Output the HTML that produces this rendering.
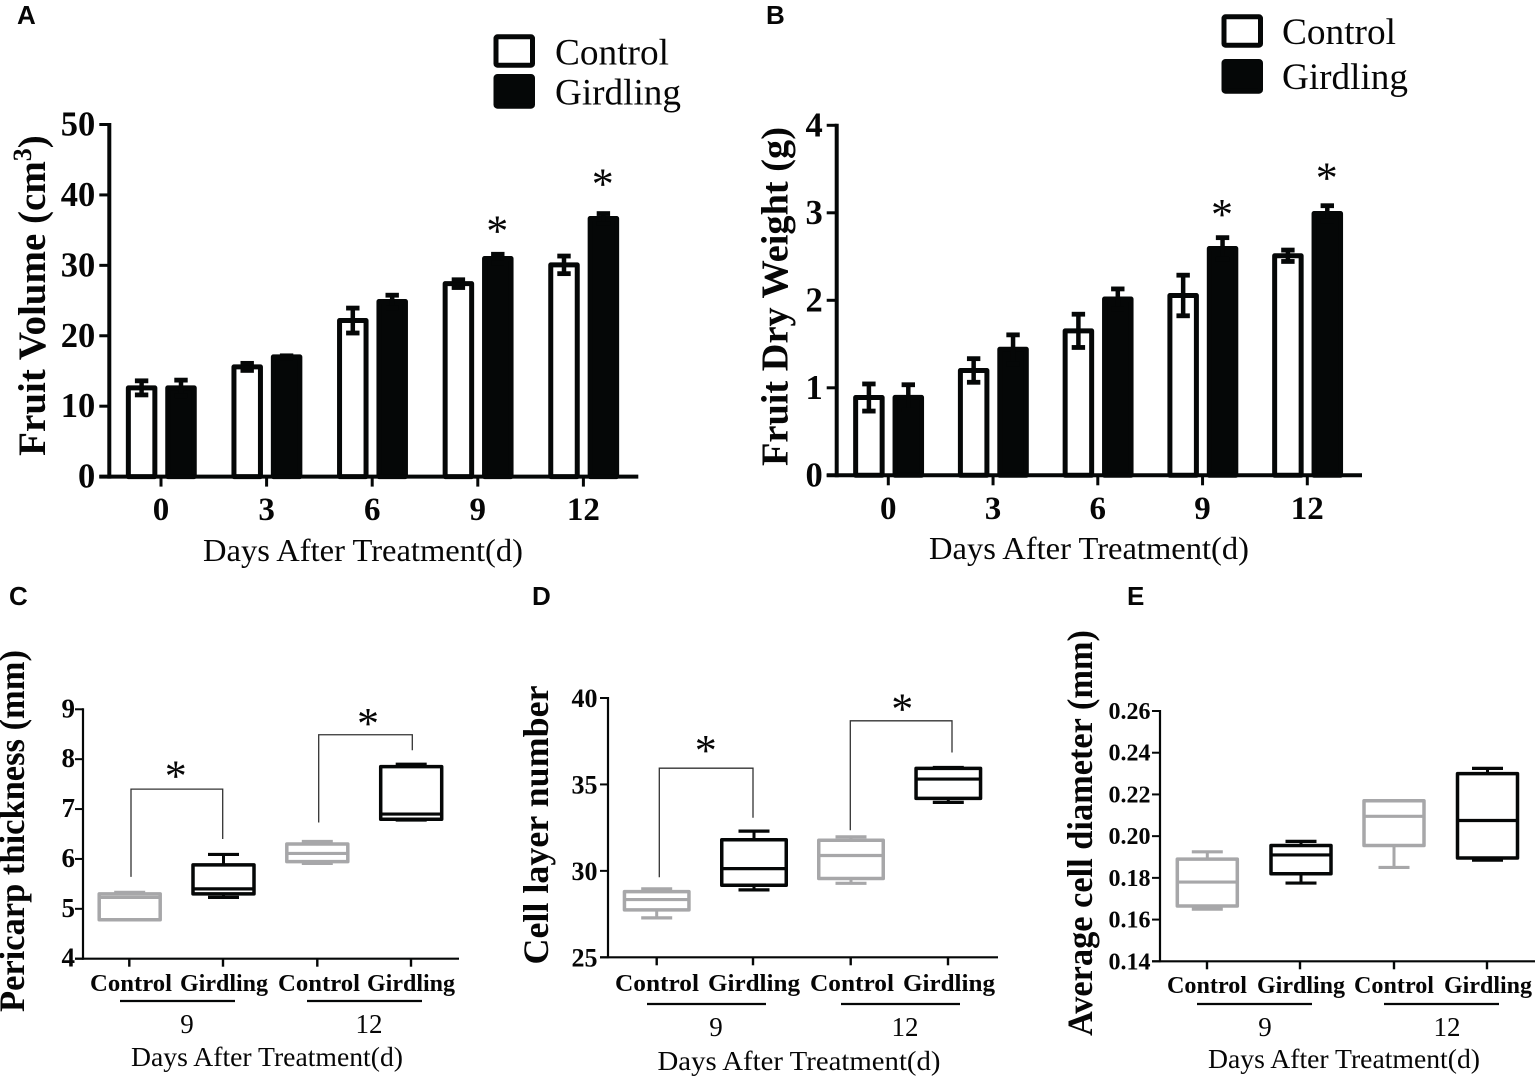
<!DOCTYPE html>
<html>
<head>
<meta charset="utf-8">
<style>
html,body{margin:0;padding:0;background:#fff}
svg{display:block}
text{font-family:"Liberation Serif",serif;fill:#060606}
.panel-letter{font-family:"Liberation Sans",sans-serif;font-weight:bold;font-size:26px}
</style>
</head>
<body>
<svg id="figure" xmlns="http://www.w3.org/2000/svg" width="1535" height="1076" viewBox="0 0 1535 1076"></svg>
<script>
// ---- Data: bar charts ----
const barDays = ['0', '3', '6', '9', '12'];
const volumeControl = [12.6, 15.58, 22.16, 27.4, 30.07];
const volumeControlErr = [1.0, 0.5, 1.77, 0.55, 1.25];
const volumeGirdling = [12.6, 17.0, 24.86, 30.97, 36.65];
const volumeGirdlingErr = [1.1, 0.15, 0.9, 0.6, 0.7];
const volumeTicks = [0, 10, 20, 30, 40, 50];
const volumeStars = [35.5, 42.2];

const weightControl = [0.889, 1.198, 1.651, 2.055, 2.509];
const weightControlErr = [0.155, 0.135, 0.19, 0.232, 0.065];
const weightGirdling = [0.89, 1.44, 2.015, 2.592, 2.992];
const weightGirdlingErr = [0.145, 0.165, 0.115, 0.124, 0.089];
const weightTicks = [0, 1, 2, 3, 4];
const weightStars = [3.03, 3.45];

// ---- Data: box plots (min, q1, median, q3, max) ----
const boxGroups = ['Control', 'Girdling', 'Control', 'Girdling'];
const boxDays = ['9', '12'];
const pericarpBoxes = [
  [4.78, 4.78, 5.23, 5.30, 5.33],
  [5.23, 5.30, 5.40, 5.88, 6.09],
  [5.91, 5.945, 6.11, 6.30, 6.35],
  [6.78, 6.795, 6.90, 7.85, 7.90]
];
const pericarpTicks = ['4', '5', '6', '7', '8', '9'];
const pericarpBrackets = [[5.64, 7.40, 6.40], [6.73, 8.49, 8.18]];
const pericarpStars = [7.75, 8.81];

const layerBoxes = [
  [27.28, 27.74, 28.34, 28.8, 28.96],
  [28.9, 29.17, 30.13, 31.8, 32.3],
  [29.28, 29.56, 30.89, 31.77, 31.97],
  [33.96, 34.19, 35.31, 35.93, 35.98]
];
const layerTicks = ['25', '30', '35', '40'];
const layerBrackets = [[29.63, 35.94, 33.07], [32.35, 38.68, 36.85]];
const layerStars = [37.22, 39.63];

const diameterBoxes = [
  [0.165, 0.1665, 0.178, 0.189, 0.1925],
  [0.1775, 0.182, 0.191, 0.1955, 0.1975],
  [0.185, 0.1955, 0.2095, 0.217, 0.217],
  [0.1885, 0.1895, 0.2075, 0.23, 0.2325]
];
const diameterTicks = ['0.14', '0.16', '0.18', '0.20', '0.22', '0.24', '0.26'];

// ---- Drawing helpers ----
const NS = 'http://www.w3.org/2000/svg';
const INK = '#050707';
const fig = document.getElementById('figure');
function mk(tag, attrs, parent, txt) {
  const e = document.createElementNS(NS, tag);
  for (const k in attrs) e.setAttribute(k, attrs[k]);
  if (txt !== undefined) e.textContent = txt;
  (parent || fig).appendChild(e);
  return e;
}
function line(p, x1, y1, x2, y2, stroke, w) {
  return mk('line', {x1, y1, x2, y2, stroke, 'stroke-width': w}, p);
}
function group(name, parent) {
  const g = mk('g', {}, parent || fig);
  
  
  return g;
}
function linearScale(d0, d1, r0, r1) {
  return v => r0 + (v - d0) * (r1 - r0) / (d1 - d0);
}
function label(p, name, x, y, str, size, opts) {
  const o = opts || {};
  const a = {x, y, 'font-size': size, 'text-anchor': o.anchor || 'middle'};
  if (o.bold) a['font-weight'] = 'bold';
  if (o.len) { a.textLength = o.len; a.lengthAdjust = 'spacingAndGlyphs'; }
  if (o.rotate) a.transform = 'rotate(-90 ' + x + ' ' + y + ')';
  const t = mk('text', a, p, str);
  
  
  return t;
}
function star(p, x, y) {
  return label(p, 'significance-star', x, y + 19, '*', 44);
}

function drawBarPanel(c) {
  const g = group(c.name);
  const y = linearScale(c.domain[0], c.domain[1], c.y0, c.y1);
  c.ticks.forEach(v => {
    line(g, c.axisX - 10, y(v), c.axisX, y(v), INK, 3);
    label(g, 'y-tick-label', c.axisX - 14, y(v) + 11, String(v), 34.5, {anchor: 'end', bold: true});
  });
  const xPos = i => c.x0 + i * c.step;
  barDays.forEach((d, i) => {
    const cx = xPos(i);
    [[c.control, c.controlErr, -19.4, '#fff', 'bar-control'], [c.girdling, c.girdlingErr, 20, INK, 'bar-girdling']].forEach(s => {
      const v = s[0][i], e = s[1][i], bx = cx + s[2];
      const r = mk('rect', {x: bx - 13.25, y: y(v), width: 26.5, height: c.y0 - y(v), fill: s[3], stroke: INK, 'stroke-width': 5, 'stroke-linejoin': 'round'}, g);
      
      
      const eb = group('error-bar', g);
      line(eb, bx, y(v - e), bx, y(v + e), INK, 4.5);
      line(eb, bx - 6.7, y(v + e), bx + 6.7, y(v + e), INK, 4.8);
      line(eb, bx - 6.7, y(v - e), bx + 6.7, y(v - e), INK, 4.8);
    });
    line(g, cx, c.y0, cx, c.y0 + 10, INK, 3);
    label(g, 'x-tick-label', cx, c.tickBase, d, 33, {bold: true});
  });
  line(g, c.axisX, c.y1 - 1.5, c.axisX, c.y0 + 2, INK, 4);
  line(g, c.axisX - 10, c.y0, c.axisEnd, c.y0, INK, 4);
  c.stars.forEach((v, i) => star(g, xPos(i + 3) + 19.4, y(v)));
  label(g, 'x-axis-title', c.titleX, c.titleBase, 'Days After Treatment(d)', 32, {len: 320});
}

function drawLegend(name, bx, by1, h1, by2, h2, tx, tb1, tb2) {
  const g = group(name);
  const r1 = mk('rect', {x: bx + 2.5, y: by1 + 2.5, width: 36.5, height: h1 - 5, fill: '#fff', stroke: INK, 'stroke-width': 5, rx: 1.5}, g);
  
  
  const r2 = mk('rect', {x: bx + 2.5, y: by2 + 2.5, width: 36.5, height: h2 - 5, fill: INK, stroke: INK, 'stroke-width': 5, rx: 1.5}, g);
  
  
  label(g, 'legend-label-control', tx, tb1, 'Control', 37, {anchor: 'start', len: 114});
  label(g, 'legend-label-girdling', tx, tb2, 'Girdling', 37, {anchor: 'start', len: 126});
}

function drawBoxPanel(c) {
  const g = group(c.name);
  const y = linearScale(c.domain[0], c.domain[1], c.y0, c.y1);
  c.ticks.forEach(s => {
    const v = parseFloat(s);
    line(g, c.axisX - 8, y(v), c.axisX, y(v), INK, 2);
    label(g, 'y-tick-label', c.axisX - c.tickGap, y(v) + c.tickDrop, s, c.tickSize, {anchor: 'end', bold: true});
  });
  line(g, c.axisX, c.y1 - 1, c.axisX, c.y0 + 1, INK, 2.2);
  line(g, c.axisX - 8, c.y0, c.axisEnd, c.y0, INK, 2.2);
  c.boxes.forEach((b, i) => {
    const cx = c.centers[i], col = i % 2 === 0 ? '#a7a7a9' : INK;
    const bg = group('box-' + boxGroups[i].toLowerCase() + '-day-' + boxDays[i < 2 ? 0 : 1], g);
    const hw = c.boxW / 2;
    line(bg, cx, y(b[0]), cx, y(b[1]), col, 3);
    line(bg, cx, y(b[3]), cx, y(b[4]), col, 3);
    line(bg, cx - 15.5, y(b[0]), cx + 15.5, y(b[0]), col, 3.2);
    line(bg, cx - 15.5, y(b[4]), cx + 15.5, y(b[4]), col, 3.2);
    mk('rect', {x: cx - hw, y: y(b[3]), width: c.boxW, height: y(b[1]) - y(b[3]), fill: 'none', stroke: col, 'stroke-width': 3.5, 'stroke-linejoin': 'round'}, bg);
    line(bg, cx - hw, y(b[2]), cx + hw, y(b[2]), col, 3.2);
    line(g, c.ticksX[i], c.y0, c.ticksX[i], c.y0 + 8, INK, 2.4);
    label(g, 'x-category-label', c.catX[i], c.catBase, boxGroups[i], 24, {bold: true, len: c.catLen[i % 2]});
  });
  boxDays.forEach((d, i) => {
    line(g, c.under[i], c.underY, c.under[i] + c.underW, c.underY, INK, 2.2);
    label(g, 'day-group-label', c.dayX[i], c.dayBase, d, 27);
  });
  (c.brackets || []).forEach((b, i) => {
    const xl = c.brX[i][0], xr = c.brX[i][1];
    const p = mk('polyline', {points: xl + ',' + y(b[0]) + ' ' + xl + ',' + y(b[1]) + ' ' + xr + ',' + y(b[1]) + ' ' + xr + ',' + y(b[2]), fill: 'none', stroke: '#333', 'stroke-width': 1.3}, g);
    
    
    star(g, c.starX[i], y(c.stars[i]));
  });
  label(g, 'x-axis-title', c.titleX, c.titleBase, 'Days After Treatment(d)', 27, {len: c.titleLen});
  label(g, 'y-axis-title', c.yTitleX, c.yTitleY, c.yTitle, 36, {bold: true, rotate: true, len: c.yTitleLen});
}

// ---- Panel letters ----
[['A', 17, 24], ['B', 766, 24], ['C', 9, 605], ['D', 532, 605], ['E', 1127, 605]].forEach(p => {
  const t = mk('text', {x: p[1], y: p[2], class: 'panel-letter'}, fig, p[0]);
  
  
});

// ---- Panels ----
drawBarPanel({name: 'panel-a-fruit-volume', domain: [0, 50], y0: 476.6, y1: 124.5, axisX: 109.3, axisEnd: 638.3,
  x0: 161, step: 105.6, ticks: volumeTicks, control: volumeControl, controlErr: volumeControlErr,
  girdling: volumeGirdling, girdlingErr: volumeGirdlingErr, stars: volumeStars, tickBase: 520,
  titleX: 363, titleBase: 561});
const ay = mk('text', {x: 45, y: 295.5, 'font-size': 39, 'font-weight': 'bold', 'text-anchor': 'middle', transform: 'rotate(-90 45 295.5)'}, fig);


mk('tspan', {}, ay, 'Fruit Volume (cm');
mk('tspan', {'font-size': 26, dy: -14}, ay, '3');
mk('tspan', {dy: 14}, ay, ')');

drawBarPanel({name: 'panel-b-fruit-dry-weight', domain: [0, 4], y0: 475.3, y1: 125.3, axisX: 836.7, axisEnd: 1362,
  x0: 888.3, step: 104.75, ticks: weightTicks, control: weightControl, controlErr: weightControlErr,
  girdling: weightGirdling, girdlingErr: weightGirdlingErr, stars: weightStars, tickBase: 519,
  titleX: 1089, titleBase: 559});
label(fig, 'y-axis-title-fruit-dry-weight', 787.5, 296.5, 'Fruit Dry Weight (g)', 38, {bold: true, rotate: true, len: 339});

drawLegend('legend-panel-a', 493.5, 34.3, 33.4, 74, 34.7, 555, 64.5, 104.5);
drawLegend('legend-panel-b', 1221.5, 14.3, 33.4, 59, 34.7, 1282, 44, 89);

drawBoxPanel({name: 'panel-c-pericarp-thickness', domain: [4, 9], y0: 958.7, y1: 709.3, axisX: 83, axisEnd: 459,
  boxes: pericarpBoxes, ticks: pericarpTicks, centers: [129.7, 223.5, 317.3, 411.2], ticksX: [129.3, 223, 317.3, 411], boxW: 61,
  tickSize: 27, tickGap: 8, tickDrop: 8,
  catX: [131, 224, 319, 411], catBase: 991, catLen: [82, 88], under: [120, 307], underW: 115, underY: 1001,
  dayX: [187, 369], dayBase: 1033, brackets: pericarpBrackets, brX: [[131, 222.7], [318.7, 412.3]], stars: pericarpStars, starX: [175.7, 368],
  titleX: 267, titleBase: 1066, titleLen: 272,
  yTitle: 'Pericarp thickness (mm)', yTitleX: 24, yTitleY: 831, yTitleLen: 362});

drawBoxPanel({name: 'panel-d-cell-layer-number', domain: [25, 40], y0: 957.3, y1: 698, axisX: 608, axisEnd: 998,
  boxes: layerBoxes, ticks: layerTicks, centers: [656.7, 754, 851, 948.3], ticksX: [656.7, 753, 850.7, 948], boxW: 64.5,
  tickSize: 26, tickGap: 10.5, tickDrop: 9,
  catX: [657, 754, 852, 949], catBase: 991, catLen: [84, 92], under: [647, 841], underW: 119, underY: 1004,
  dayX: [716, 905], dayBase: 1036, brackets: layerBrackets, brX: [[659.3, 753], [850.3, 952]], stars: layerStars, starX: [705.7, 902.3],
  titleX: 799, titleBase: 1070, titleLen: 283,
  yTitle: 'Cell layer number', yTitleX: 548, yTitleY: 825, yTitleLen: 279});

drawBoxPanel({name: 'panel-e-average-cell-diameter', domain: [0.14, 0.26], y0: 961.3, y1: 711, axisX: 1160, axisEnd: 1535,
  boxes: diameterBoxes, ticks: diameterTicks, centers: [1207.3, 1301, 1394, 1487.5], ticksX: [1207, 1300, 1394, 1487], boxW: 60,
  tickSize: 24, tickGap: 9.5, tickDrop: 8,
  catX: [1207, 1301, 1394, 1488], catBase: 993, catLen: [80, 88], under: [1197, 1384], underW: 115, underY: 1004,
  dayX: [1265, 1447], dayBase: 1036, titleX: 1344, titleBase: 1068, titleLen: 272,
  yTitle: 'Average cell diameter (mm)', yTitleX: 1092, yTitleY: 833, yTitleLen: 406});
</script>
</body>
</html>
